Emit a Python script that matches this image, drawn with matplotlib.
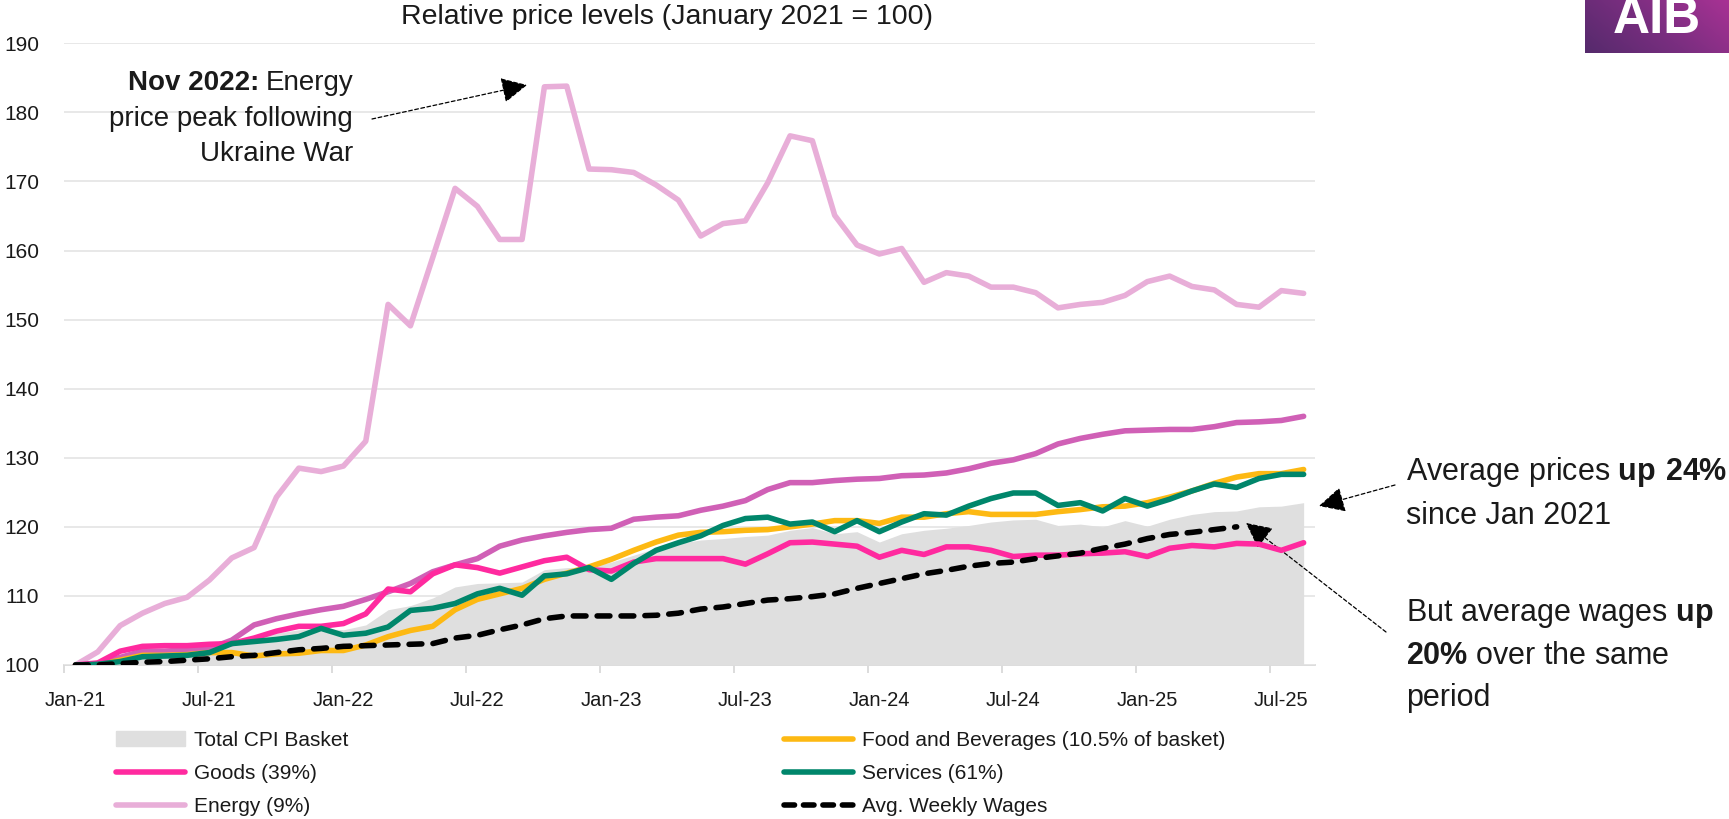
import numpy as np
import matplotlib
matplotlib.use('Agg')
import matplotlib.pyplot as plt
import matplotlib.patches as mpatches
from matplotlib.lines import Line2D
from matplotlib.colors import LinearSegmentedColormap

plt.rcParams['font.family'] = ['Liberation Sans', 'DejaVu Sans']
plt.rcParams['mathtext.fontset'] = 'custom'
plt.rcParams['mathtext.rm'] = 'Liberation Sans'
plt.rcParams['mathtext.bf'] = 'Liberation Sans:bold'

W, H = 1729, 819

# =============================================================================
# DATA (Jan 2021 = 100, monthly Jan-21 .. Aug-25)
# =============================================================================
tick_labels = ['Jan-21', 'Jul-21', 'Jan-22', 'Jul-22', 'Jan-23',
               'Jul-23', 'Jan-24', 'Jul-24', 'Jan-25', 'Jul-25']

energy = [100.0, 101.9, 105.7, 107.5, 108.9, 109.8, 112.3, 115.5, 117.0, 124.3,
          128.5, 128.0, 128.8, 132.4, 152.2, 149.1, 159.0, 169.0, 166.4, 161.6,
          161.6, 183.7, 183.8, 171.8, 171.7, 171.3, 169.5, 167.3, 162.1, 163.9,
          164.3, 169.8, 176.6, 175.9, 165.1, 160.8, 159.5, 160.3, 155.4, 156.8,
          156.3, 154.7, 154.7, 153.9, 151.7, 152.2, 152.5, 153.5, 155.5, 156.3,
          154.8, 154.3, 152.2, 151.8, 154.2, 153.8]

other = [100.0, 100.2, 101.1, 102.0, 102.0, 102.2, 102.4, 103.6, 105.8, 106.7,
         107.4, 108.0, 108.5, 109.5, 110.6, 111.8, 113.5, 114.5, 115.4, 117.2,
         118.1, 118.7, 119.2, 119.6, 119.8, 121.1, 121.4, 121.6, 122.4, 123.0,
         123.8, 125.4, 126.4, 126.4, 126.7, 126.9, 127.0, 127.4, 127.5, 127.8,
         128.4, 129.2, 129.7, 130.6, 132.0, 132.8, 133.4, 133.9, 134.0, 134.1,
         134.1, 134.5, 135.1, 135.2, 135.4, 136.0]

goods = [100.0, 100.3, 102.0, 102.7, 102.8, 102.8, 103.0, 103.1, 103.9, 104.9,
         105.6, 105.6, 106.0, 107.4, 111.0, 110.6, 113.2, 114.5, 114.1, 113.3,
         114.2, 115.1, 115.6, 113.8, 113.6, 114.9, 115.4, 115.4, 115.4, 115.4,
         114.6, 116.1, 117.7, 117.8, 117.5, 117.2, 115.6, 116.6, 116.0, 117.1,
         117.1, 116.6, 115.7, 115.9, 115.9, 116.1, 116.2, 116.4, 115.7, 116.9,
         117.3, 117.1, 117.6, 117.5, 116.6, 117.7]

food = [100.0, 100.0, 100.7, 101.4, 101.4, 101.5, 101.8, 101.8, 101.3, 101.6,
        101.7, 102.1, 102.1, 102.9, 104.1, 105.0, 105.6, 108.0, 109.5, 110.3,
        111.1, 112.4, 113.3, 114.2, 115.3, 116.6, 117.8, 118.8, 119.2, 119.3,
        119.5, 119.6, 120.0, 120.4, 120.9, 120.9, 120.5, 121.4, 121.4, 121.9,
        122.2, 121.8, 121.8, 121.8, 122.2, 122.5, 122.9, 123.0, 123.5, 124.3,
        125.2, 126.3, 127.2, 127.7, 127.7, 128.3]

services = [100.0, 100.1, 100.5, 101.2, 101.3, 101.4, 101.8, 103.1, 103.4, 103.7,
            104.1, 105.3, 104.3, 104.6, 105.5, 107.9, 108.2, 108.9, 110.3, 111.1,
            110.1, 112.9, 113.2, 114.1, 112.4, 114.7, 116.6, 117.7, 118.7, 120.2,
            121.2, 121.4, 120.4, 120.7, 119.3, 120.9, 119.3, 120.7, 121.9, 121.7,
            123.0, 124.1, 124.9, 124.9, 123.1, 123.5, 122.3, 124.1, 123.0, 124.0,
            125.2, 126.2, 125.7, 127.0, 127.6, 127.6]

wages = [100.0, 100.0, 100.2, 100.4, 100.5, 100.7, 100.9, 101.2, 101.4, 101.8,
         102.2, 102.4, 102.7, 102.8, 102.9, 103.0, 103.1, 103.9, 104.3, 105.1,
         105.8, 106.7, 107.1, 107.1, 107.1, 107.1, 107.2, 107.5, 108.1, 108.4,
         108.9, 109.4, 109.6, 109.9, 110.3, 111.1, 111.8, 112.5, 113.2, 113.7,
         114.3, 114.7, 114.9, 115.4, 115.8, 116.2, 116.9, 117.5, 118.3, 118.9,
         119.2, 119.6, 120.0]

cpi = [100.0, 100.3, 100.9, 101.6, 101.9, 102.1, 102.6, 103.3, 104.0, 104.6,
       105.1, 105.3, 105.1, 105.8, 108.0, 108.6, 109.7, 111.3, 111.8, 111.9,
       112.0, 113.8, 114.1, 114.2, 114.9, 115.9, 116.9, 117.6, 118.1, 118.3,
       118.6, 118.8, 119.5, 119.9, 119.0, 119.3, 117.8, 119.0, 119.5, 119.8,
       120.2, 120.7, 121.0, 121.1, 120.2, 120.4, 120.0, 120.9, 120.1, 121.1,
       121.8, 122.2, 122.3, 122.9, 123.0, 123.5]

colors = {
    'cpi': '#DFDFDF',
    'food': '#FDB913',
    'goods': '#FF2A9F',
    'services': '#00866B',
    'energy': '#E8AED8',
    'other': '#D060B6',
    'wages': '#000000',
}
LW = 4.0
TXT = '#1a1a1a'


def fx(x):
    return x / W


def fy(y):
    return 1 - y / H


# =============================================================================
# FIGURE
# =============================================================================
fig = plt.figure(figsize=(W / 100, H / 100), dpi=100)
ax = fig.add_axes([fx(64.3), fy(665), (1314.8 - 64.3) / W, (665 - 43.3) / H])

x = np.arange(len(cpi))
ax.fill_between(x, 100, cpi, color=colors['cpi'], lw=0, zorder=1)
ax.plot(x, other, color=colors['other'], lw=LW, solid_capstyle='round', zorder=2)
ax.plot(x, energy, color=colors['energy'], lw=LW, solid_capstyle='round', zorder=3)
ax.plot(x, food, color=colors['food'], lw=LW, solid_capstyle='round', zorder=4)
ax.plot(x, goods, color=colors['goods'], lw=LW, solid_capstyle='round', zorder=5)
ax.plot(x, services, color=colors['services'], lw=LW, solid_capstyle='round', zorder=6)
ax.plot(np.arange(len(wages)), wages, color=colors['wages'], lw=LW,
        dashes=(2.3, 2.0), dash_capstyle='round', zorder=7)

ax.set_xlim(-0.5, len(cpi) - 0.5)
ax.set_ylim(100, 190)
ax.set_yticks(range(100, 191, 10))
ax.yaxis.grid(True, color='#E6E6E6', lw=1.3)
ax.set_axisbelow(True)
for s in ['top', 'right', 'left']:
    ax.spines[s].set_visible(False)
ax.spines['bottom'].set_color('#D9D9D9')
ax.spines['bottom'].set_linewidth(1.3)
ax.spines['bottom'].set_zorder(0.5)

ax.set_xticks(np.arange(-0.5, len(cpi), 6))
ax.set_xticklabels([])
ax.set_xticks(np.arange(0, len(cpi), 6), minor=True)
ax.set_xticklabels(tick_labels, minor=True)
ax.tick_params(axis='x', which='major', length=6, width=1.3, color='#D9D9D9')
ax.tick_params(axis='x', which='minor', length=0, pad=19, labelsize=14.5, labelcolor=TXT)
ax.tick_params(axis='y', length=0, pad=18, labelsize=15, labelcolor=TXT)

# ── annotations ──────────────────────────────────────────────────────────────
fig.text(fx(667), fy(17), 'Relative price levels (January 2021 = 100)',
         ha='center', va='center', fontsize=20.5, color=TXT)

# left note: bold lead-in placed just before the regular part of line 1
t_en = fig.text(fx(353), fy(83), 'Energy', ha='right', va='center', fontsize=20, color=TXT)
fig.text(fx(353), fy(119), 'price peak following', ha='right', va='center', fontsize=20, color=TXT)
fig.text(fx(353), fy(154), 'Ukraine War', ha='right', va='center', fontsize=20, color=TXT)
renderer = fig.canvas.get_renderer()
bb = t_en.get_window_extent(renderer)
fig.text((bb.x0 - 6) / W, fy(83), 'Nov 2022:', ha='right', va='center', fontsize=20,
         fontweight='bold', color=TXT)

fig.text(fx(1406), fy(493), 'Average prices $\\bf{up\\ 24\\%}$\nsince Jan 2021',
         ha='left', va='center', fontsize=22, linespacing=1.5, color=TXT)

fig.text(fx(1406), fy(655), 'But average wages $\\bf{up}$\n$\\bf{20\\%}$ over the same\nperiod',
         ha='left', va='center', fontsize=22, linespacing=1.5, color=TXT)

arrow = dict(arrowstyle='-|>,head_length=0.8,head_width=0.4', color='black',
             lw=0.9, linestyle=(0, (3, 2)), mutation_scale=20, shrinkA=0, shrinkB=0)
ax.annotate('', xy=(fx(527), fy(85)), xycoords='figure fraction',
            xytext=(fx(372), fy(119)), textcoords='figure fraction',
            arrowprops=arrow, annotation_clip=False)
ax.annotate('', xy=(fx(1319), fy(506)), xycoords='figure fraction',
            xytext=(fx(1395), fy(485)), textcoords='figure fraction',
            arrowprops=arrow, annotation_clip=False)
ax.annotate('', xy=(fx(1246), fy(523)), xycoords='figure fraction',
            xytext=(fx(1386), fy(632)), textcoords='figure fraction',
            arrowprops=arrow, annotation_clip=False)

# ── legend ───────────────────────────────────────────────────────────────────
handles = [
    mpatches.Patch(color=colors['cpi'], label='Total CPI Basket'),
    Line2D([], [], color=colors['goods'], lw=LW, solid_capstyle='round', label='Goods (39%)'),
    Line2D([], [], color=colors['energy'], lw=LW, solid_capstyle='round', label='Energy (9%)'),
    Line2D([], [], color=colors['food'], lw=LW, solid_capstyle='round',
           label='Food and Beverages (10.5% of basket)'),
    Line2D([], [], color=colors['services'], lw=LW, solid_capstyle='round', label='Services (61%)'),
    Line2D([], [], color=colors['wages'], lw=LW, dashes=(1.9, 1.6), dash_capstyle='round',
           label='Avg. Weekly Wages'),
]
fig.legend(handles=handles, ncol=2, loc='upper left', bbox_to_anchor=(fx(116), fy(731)),
           frameon=False, fontsize=15, handlelength=3.3, handletextpad=0.45,
           columnspacing=20.9, labelspacing=0.67, borderpad=0, borderaxespad=0,
           labelcolor=TXT)

# ── logo ─────────────────────────────────────────────────────────────────────
lax = fig.add_axes([fx(1585), fy(53), 144 / W, 53 / H])
gx, gy = np.meshgrid(np.linspace(0, 1, 200), np.linspace(0, 1, 80))
cmap = LinearSegmentedColormap.from_list('aib', ['#552A6C', '#7A2E80', '#A83294'])
lax.imshow(gx * 0.7 + gy * 0.3, cmap=cmap, aspect='auto', origin='lower', extent=(0, 1, 0, 1))
lax.set_axis_off()
fig.text(fx(1657), fy(33), 'AIB', ha='center', va='baseline', fontsize=37,
         fontweight='bold', color='white')

fig.savefig('out.png', dpi=100)
